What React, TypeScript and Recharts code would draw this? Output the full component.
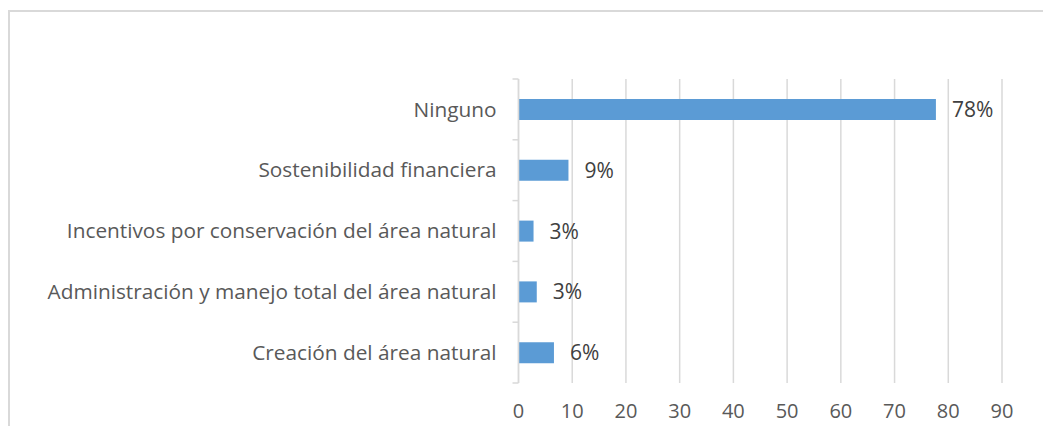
import React from "react";
import { BarChart, Bar, XAxis, YAxis, CartesianGrid, LabelList } from "recharts";

const categories = [
  "Ninguno",
  "Sostenibilidad financiera",
  "Incentivos por conservación del área natural",
  "Administración y manejo total del área natural",
  "Creación del área natural",
];
const values = [77.7, 9.3, 2.8, 3.4, 6.6];
const valueLabels = ["78%", "9%", "3%", "3%", "6%"];
const xTicks = [0, 10, 20, 30, 40, 50, 60, 70, 80, 90];

const data = categories.map((name, i) => ({ name, value: values[i], label: valueLabels[i] }));

const FONT = "'Open Sans', sans-serif";
const BAND = 304 / categories.length;

const CategoryTick = (props: any) => {
  const { x, y, payload, index } = props;
  const half = BAND / 2;
  return (
    <g>
      <line x1={x + 10} x2={x + 16} y1={y - half} y2={y - half} stroke="#d9d9d9" strokeWidth={1.5} />
      {index === categories.length - 1 && (
        <line x1={x + 10} x2={x + 16} y1={y + half} y2={y + half} stroke="#d9d9d9" strokeWidth={1.5} />
      )}
      <text x={x - 6} y={y} dy="0.35em" textAnchor="end" fill="#595959" fontSize={20.8} fontFamily={FONT}>
        {payload.value}
      </text>
    </g>
  );
};

export default function App() {
  return (
    <div style={{ position: "absolute", left: 0, top: 0, width: 1043, height: 426, overflow: "hidden", background: "#fff" }}>
      <div
        style={{
          position: "absolute",
          left: 8,
          top: 10,
          width: 1200,
          height: 600,
          border: "2px solid #d9d9d9",
          boxSizing: "border-box",
        }}
      />
      <div style={{ position: "absolute", left: 0, top: 0 }}>
        <BarChart
          width={1043}
          height={426}
          data={data}
          layout="vertical"
          margin={{ top: 79, right: 41, bottom: 0, left: 0 }}
        >
          <CartesianGrid horizontal={false} vertical={true} stroke="#d9d9d9" strokeWidth={1.5} />
          <XAxis
            type="number"
            domain={[0, 90]}
            ticks={xTicks}
            interval={0}
            axisLine={false}
            tickLine={false}
            tickMargin={15}
            height={43}
            tick={{ fill: "#595959", fontSize: 20, fontFamily: FONT }}
          />
          <YAxis
            type="category"
            dataKey="name"
            width={518.5}
            axisLine={{ stroke: "#d9d9d9", strokeWidth: 1.5 }}
            tickLine={false}
            tickMargin={10}
            tick={<CategoryTick />}
            interval={0}
          />
          <Bar dataKey="value" fill="#5b9bd5" barSize={21} isAnimationActive={false}>
            <LabelList
              dataKey="label"
              position="right"
              offset={16}
              fill="#404040"
              fontSize={21}
              fontFamily={FONT}
            />
          </Bar>
        </BarChart>
      </div>
    </div>
  );
}
